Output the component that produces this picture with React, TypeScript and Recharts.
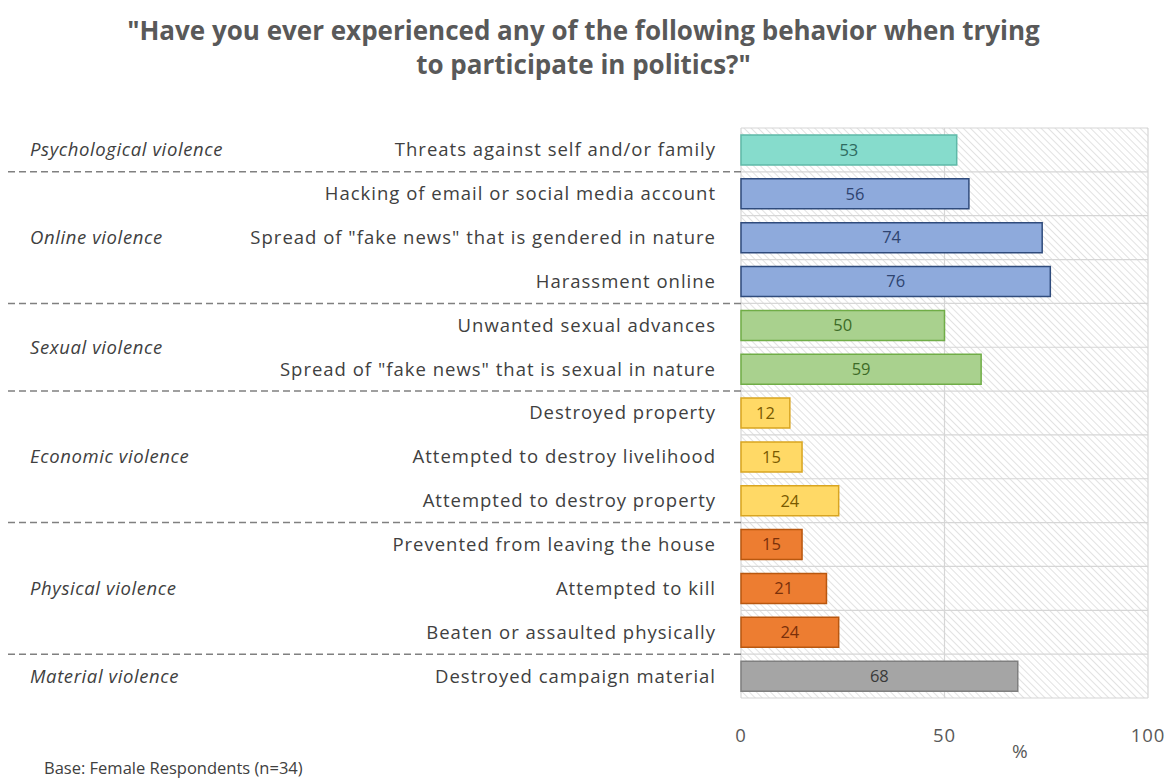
import { BarChart, Bar, XAxis, YAxis, CartesianGrid, Cell, LabelList } from "recharts";

const groups = [
  "Psychological violence",
  "Online violence",
  "Sexual violence",
  "Economic violence",
  "Physical violence",
  "Material violence",
];

const behaviors = [
  "Threats against self and/or family",
  "Hacking of email or social media account",
  'Spread of "fake news" that is gendered in nature',
  "Harassment online",
  "Unwanted sexual advances",
  'Spread of "fake news" that is sexual in nature',
  "Destroyed property",
  "Attempted to destroy livelihood",
  "Attempted to destroy property",
  "Prevented from leaving the house",
  "Attempted to kill",
  "Beaten or assaulted physically",
  "Destroyed campaign material",
];

const percents = [53, 56, 74, 76, 50, 59, 12, 15, 24, 15, 21, 24, 68];

const groupOfRow = [0, 1, 1, 1, 2, 2, 3, 3, 3, 4, 4, 4, 5];

const xTicks = [0, 50, 100];

const data = behaviors.map((b, i) => ({ behavior: b, value: percents[i], group: groupOfRow[i] }));

const fills = ["#86dccc", "#8eaadc", "#a9d18e", "#ffd966", "#ed7d31", "#a5a5a5"];
const strokes = ["#5fb9a8", "#2f4b7c", "#70ad47", "#d9a520", "#b9570f", "#7f7f7f"];
const labelColors = ["#2e6b60", "#2f4470", "#3d6b27", "#7a5a00", "#7a300a", "#3a3a3a"];

const CHART_W = 1167;
const CHART_H = 778;
const MARGIN = { top: 128, right: 19, bottom: 40, left: 0 };
const Y_WIDTH = 741;
const PLOT_H = CHART_H - MARGIN.top - MARGIN.bottom - 40;
const ROW_H = PLOT_H / behaviors.length;

const labelFont = "'Open Sans', sans-serif";

function BehaviorTick(props: any) {
  const { x, y, payload, index } = props;
  const i = index ?? payload.index;
  const g = groupOfRow[i];
  const first = groupOfRow.indexOf(g);
  const last = groupOfRow.lastIndexOf(g);
  const count = last - first + 1;
  return (
    <g>
      <text
        x={x}
        y={y}
        dy="0.35em"
        textAnchor="end"
        fill="#404040"
        fontSize={18.5}
        letterSpacing={1}
        fontFamily={labelFont}
      >
        {payload.value}
      </text>
      {i === first && (
        <text
          x={30}
          y={y + ((count - 1) / 2) * ROW_H}
          dy="0.35em"
          fill="#404040"
          fontSize={18.5}
          letterSpacing={0.6}
          fontStyle="italic"
          fontFamily={labelFont}
        >
          {groups[g]}
        </text>
      )}
      {i === last && i < behaviors.length - 1 && (
        <line
          x1={8}
          x2={Y_WIDTH}
          y1={y + ROW_H / 2}
          y2={y + ROW_H / 2}
          stroke="#808080"
          strokeWidth={1.5}
          strokeDasharray="7 4"
        />
      )}
    </g>
  );
}

function ValueLabel(props: any) {
  const { x, y, width, height, value, index } = props;
  return (
    <text
      x={x + width / 2}
      y={y + height / 2}
      dy="0.35em"
      textAnchor="middle"
      fill={labelColors[groupOfRow[index]]}
      fontSize={16.5}
      fontFamily={labelFont}
    >
      {value}
    </text>
  );
}

export default function App() {
  return (
    <div style={{ position: "absolute", left: 0, top: 0, width: CHART_W, height: CHART_H, background: "#fff" }}>
      <div
        style={{
          position: "absolute",
          left: 0,
          top: 13,
          width: CHART_W,
          textAlign: "center",
          fontFamily: labelFont,
          fontWeight: 700,
          fontSize: 26,
          lineHeight: "34px",
          color: "#595959",
        }}
      >
        "Have you ever experienced any of the following behavior when trying
        <br />
        to participate in politics?"
      </div>

      <BarChart
        width={CHART_W}
        height={CHART_H}
        data={data}
        layout="vertical"
        margin={MARGIN}
        barSize={30}
      >
        <defs>
          <pattern id="hatch" patternUnits="userSpaceOnUse" width="5" height="5" patternTransform="rotate(-45)">
            <rect width="5" height="5" fill="#ffffff" />
            <line x1="0" y1="0" x2="0" y2="5" stroke="#cfcfcf" strokeWidth="1.2" />
          </pattern>
        </defs>
        <CartesianGrid
          fill="url(#hatch)"
          fillOpacity={1}
          stroke="#d6d6d6"
          strokeWidth={1.2}
          horizontalCoordinatesGenerator={({ offset }: any) =>
            behaviors.map((_, i) => offset.top + (i * offset.height) / behaviors.length).concat(offset.top + offset.height)
          }
        />
        <XAxis
          type="number"
          domain={[0, 100]}
          ticks={xTicks}
          height={40}
          axisLine={false}
          tickLine={false}
          tickMargin={25}
          tick={{ fill: "#595959", fontSize: 18.5, letterSpacing: 1, fontFamily: labelFont }}
        />
        <YAxis
          type="category"
          dataKey="behavior"
          width={Y_WIDTH}
          axisLine={false}
          tickLine={false}
          tickMargin={19}
          interval={0}
          tick={<BehaviorTick />}
        />
        <Bar dataKey="value" isAnimationActive={false} strokeWidth={1.5}>
          {data.map((d, i) => (
            <Cell key={i} fill={fills[d.group]} stroke={strokes[d.group]} />
          ))}
          <LabelList dataKey="value" content={<ValueLabel />} />
        </Bar>
      </BarChart>

      <div
        style={{
          position: "absolute",
          left: 1012,
          top: 738,
          fontFamily: labelFont,
          fontSize: 19,
          color: "#595959",
        }}
      >
        %
      </div>
      <div
        style={{
          position: "absolute",
          left: 44,
          top: 756,
          fontFamily: labelFont,
          fontSize: 16.5,
          color: "#404040",
        }}
      >
        Base: Female Respondents (n=34)
      </div>
    </div>
  );
}
